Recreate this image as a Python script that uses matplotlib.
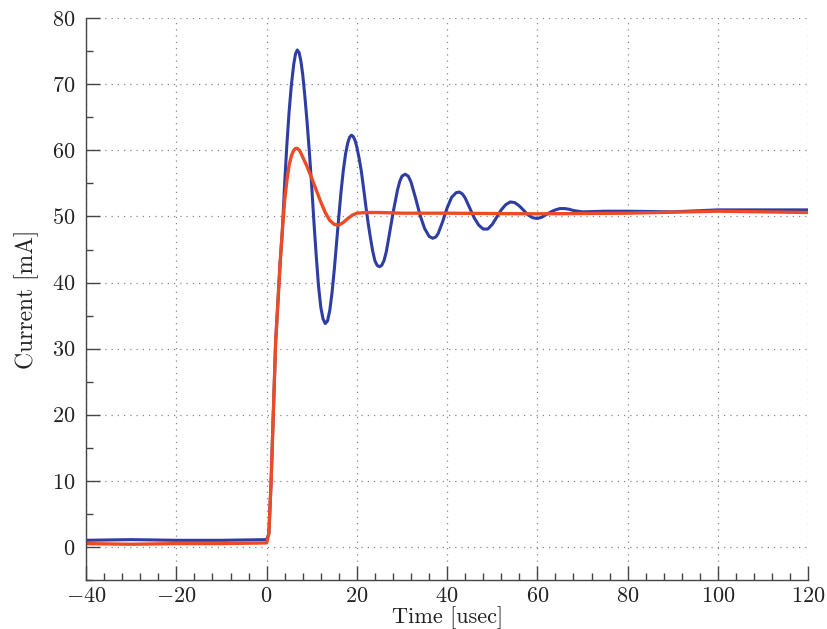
import matplotlib
matplotlib.use('Agg')
import numpy as np
import matplotlib.pyplot as plt
from matplotlib.ticker import MultipleLocator

plt.rcParams['font.family'] = 'serif'
plt.rcParams['font.serif'] = ['cmr10']
plt.rcParams['mathtext.fontset'] = 'cm'
plt.rcParams['axes.formatter.use_mathtext'] = True

# blue trace (underdamped)
t_blue = [-40, -30, -20, -10, 0, 0.5, 1, 2, 3, 3.5, 4, 4.5, 5, 5.5, 6, 6.4, 6.8, 7.2, 7.6, 8, 8.5,
          9, 9.5, 10, 10.5, 11, 11.5, 12, 12.5, 13, 13.5, 14, 14.5, 15, 15.5, 16, 16.5, 17,
          17.5, 18, 18.4, 18.8, 19.2, 19.6, 20, 20.5, 21, 21.5, 22, 22.5, 23, 23.5, 24, 24.5,
          25, 25.5, 26, 26.5, 27, 28, 29, 29.5, 30, 30.7, 31.4, 32, 33, 34, 35, 36, 36.8,
          37.5, 38, 39, 40, 41, 42, 42.7, 43.4, 44, 45, 46, 47, 48, 49, 50, 51, 52, 53, 54,
          55, 56, 57, 58, 59, 60, 61, 62, 63, 64, 65, 66, 67, 68, 70, 75, 80, 90, 100, 110, 120]
i_blue = [1.0, 1.1, 1.0, 1.0, 1.1, 2.0, 10, 31, 43, 48, 55, 61, 66, 70, 73, 74.6, 75.2, 74.8, 73.5, 71.5, 68,
          64, 59.5, 54.5, 49, 44, 39.5, 36.3, 34.5, 33.8, 34.2, 35.8, 38.5, 42, 46, 50, 53.8, 57,
          59.5, 61.2, 62, 62.3, 62.1, 61.5, 60.5, 58.8, 56.8, 54.2, 51.5, 49, 46.8, 44.8, 43.3, 42.6,
          42.4, 42.6, 43.3, 44.6, 46.5, 50.5, 54, 55.3, 56.1, 56.4, 56.1, 55.2, 52.8, 50.2, 48.2, 47, 46.7,
          46.9, 47.4, 49.2, 51.3, 52.9, 53.6, 53.7, 53.4, 52.8, 51.3, 49.8, 48.7, 48.1, 48.1, 48.8, 49.9, 51, 51.8, 52.2,
          52.1, 51.6, 50.9, 50.2, 49.8, 49.7, 49.9, 50.3, 50.7, 51, 51.2, 51.2, 51.1, 50.9, 50.7, 50.8, 50.8, 50.7, 51, 51, 51]

# red trace (well damped)
t_red = [-40, -30, -20, -10, 0, 0.5, 1, 2, 3, 3.5, 4, 4.5, 5, 5.5, 6, 6.4, 6.8, 7.3, 8, 9, 10, 11,
         12, 13, 14, 15, 16, 17, 18, 19, 20, 22, 25, 30, 40, 60, 80, 100, 120]
i_red = [0.5, 0.4, 0.5, 0.5, 0.6, 2.0, 10, 31, 43, 48, 52.5, 55.5, 57.8, 59.2, 60, 60.3, 60.3, 60, 59, 57.5, 55.8, 54,
         52.2, 50.6, 49.4, 48.8, 48.7, 49.1, 49.7, 50.2, 50.5, 50.6, 50.6, 50.5, 50.5, 50.4, 50.5, 50.8, 50.6]

fig = plt.figure(figsize=(8.28, 6.29), dpi=100)
ax = fig.add_axes([0.104, 0.078, 0.872, 0.893])

ax.plot(t_blue, i_blue, color='#2e3da3', lw=2.2)
ax.plot(t_red, i_red, color='#ec4b28', lw=2.4)

ax.set_xlim(-40, 120)
ax.set_ylim(-5, 80)
ax.xaxis.set_major_locator(MultipleLocator(20))
ax.xaxis.set_minor_locator(MultipleLocator(4))
ax.yaxis.set_major_locator(MultipleLocator(10))
ax.yaxis.set_minor_locator(MultipleLocator(5))

ax.spines['top'].set_visible(False)
ax.spines['right'].set_visible(False)
for s in ['left', 'bottom']:
    ax.spines[s].set_color('#444444')
    ax.spines[s].set_linewidth(1.0)

ax.tick_params(which='both', direction='in', colors='#444444', labelcolor='#222222', labelsize=16)
ax.tick_params(which='major', length=10, width=1.0)
ax.tick_params(which='minor', length=5, width=1.0)
ax.tick_params(axis='y', which='major', pad=8)
ax.tick_params(axis='x', which='major', pad=5)

ax.grid(True, which='major', linestyle=(0, (1, 4)), color='#888888', linewidth=0.9)
ax.set_axisbelow(True)

ax.set_xlabel('Time [usec]', fontsize=16, color='#222222', labelpad=0)
ax.set_ylabel('Current [mA]', fontsize=17, color='#222222', labelpad=9)

plt.savefig('out.png', dpi=100)
